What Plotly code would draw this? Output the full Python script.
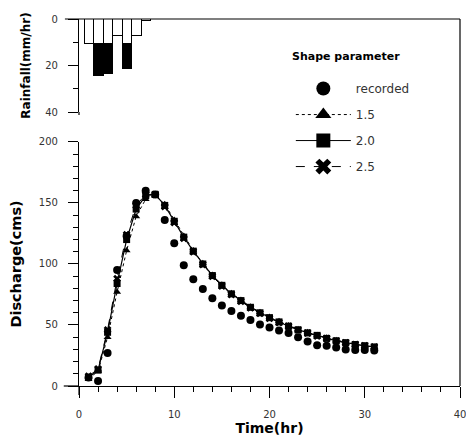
import plotly.graph_objects as go

# ---- data ----
hours = list(range(1, 32))
recorded = [7, 4, 27, 95, 123, 150, 160, 157, 136, 117,
            99, 87.5, 79.5, 72, 66, 61.5, 57.5, 54, 50.5, 48,
            45.5, 43.5, 40, 36.5, 33.5, 33, 31.5, 30, 29.5, 29.5, 29]
shape_15 = [6, 12, 40, 77, 111, 139, 153, 156, 149, 136,
            123, 111, 100.5, 91, 83, 76, 70.5, 65, 60.5, 56.5,
            53, 49.5, 46.5, 44, 41.5, 39.5, 37.5, 35.5, 34, 33, 32]
shape_20 = [7, 13, 44, 84, 120, 145, 156, 157, 148, 135,
            122, 110.5, 100, 90.5, 82.5, 75.5, 70, 64.5, 60, 56,
            52.5, 49, 46, 43.5, 41.5, 39, 37, 35.5, 34, 33, 32]
shape_25 = [8, 14, 46, 88, 124, 148, 157, 157, 147, 134,
            121, 110, 99.5, 90, 82, 75, 69.5, 64, 59.5, 55.5,
            52, 49, 46, 43.5, 41, 39, 37, 35.5, 34, 33, 32]

rain_time = [1.1, 2.1, 3.1, 4.1, 5.1, 6.1, 7.1]
rain_loss = [10.7, 10.7, 10.7, 7.2, 10.7, 7.2, 1.0]
rain_excess = [0, 13.6, 13.0, 0, 10.8, 0, 0]

x_ticks = [0, 10, 20, 30, 40]
q_ticks = [0, 50, 100, 150, 200]
r_ticks = [0, 20, 40]

legend_title = "Shape parameter"
legend_names = ["recorded", "1.5", "2.0", "2.5"]

BLACK = "black"
fig = go.Figure()

# rainfall hyetograph (upper panel)
fig.add_trace(go.Bar(x=rain_time, y=rain_loss, width=1, xaxis="x2", yaxis="y2",
                     marker=dict(color="white", line=dict(color=BLACK, width=1)),
                     showlegend=False))
fig.add_trace(go.Bar(x=rain_time, y=rain_excess, width=1, xaxis="x2", yaxis="y2",
                     marker=dict(color=BLACK, line=dict(color=BLACK, width=1)),
                     showlegend=False))

# discharge (lower panel)
fig.add_trace(go.Scatter(x=hours, y=shape_15, mode="lines+markers",
                         line=dict(color=BLACK, width=1, dash="dot"),
                         marker=dict(symbol="triangle-up", size=7, color=BLACK),
                         showlegend=False))
fig.add_trace(go.Scatter(x=hours, y=shape_25, mode="lines+markers",
                         line=dict(color=BLACK, width=1, dash="dash"),
                         marker=dict(symbol="x", size=7, color=BLACK),
                         showlegend=False))
fig.add_trace(go.Scatter(x=hours, y=shape_20, mode="lines+markers",
                         line=dict(color=BLACK, width=1.2),
                         marker=dict(symbol="square", size=7, color=BLACK),
                         showlegend=False))
fig.add_trace(go.Scatter(x=hours, y=recorded, mode="markers",
                         marker=dict(symbol="circle", size=8, color=BLACK),
                         showlegend=False))

# legend entries (larger symbols as in the reference)
leg_specs = [
    (legend_names[0], "markers", "circle", None),
    (legend_names[1], "lines+markers", "triangle-up", "dot"),
    (legend_names[2], "lines+markers", "square", "solid"),
    (legend_names[3], "lines+markers", "x", "dash"),
]
for i, (nm, mode, sym, dash) in enumerate(leg_specs):
    fig.add_trace(go.Scatter(x=[None], y=[None], mode=mode, name=nm,
                             legendgroup=f"g{i}",
                             marker=dict(symbol=sym, size=14, color=BLACK),
                             line=dict(color=BLACK, width=1, dash=dash or "solid")))

tickfont = dict(family="DejaVu Sans", size=10, color="#333")
titlefont = dict(family="DejaVu Sans", color=BLACK)

dom_q_top = 0.665
dom_r_bot = 0.7466

fig.update_layout(
    width=466, height=436,
    margin=dict(l=79, r=6, t=19, b=50, autoexpand=False),
    paper_bgcolor="white", plot_bgcolor="white",
    barmode="stack", bargap=0,
    showlegend=True,
    legend=dict(x=0.556, y=0.85, xanchor="left", yanchor="top",
                bgcolor="rgba(0,0,0,0)",
                font=dict(family="DejaVu Sans", size=12, color="#333"),
                tracegroupgap=7, itemwidth=55),
    xaxis=dict(domain=[0, 1], range=[0, 40], anchor="y", automargin=False,
               tickvals=x_ticks, ticks="outside", ticklen=11, tickwidth=1,
               tickcolor=BLACK, tickfont=tickfont, showgrid=False, zeroline=False,
               showline=True, linecolor=BLACK, linewidth=1.2, ticklabelstandoff=8,
               ticklabeloverflow="allow",
               minor=dict(dtick=2, ticks="outside", ticklen=5, tickcolor=BLACK, showgrid=False),
               title=dict(text="<b>Time(hr)</b>", font=dict(size=14, **titlefont), standoff=2)),
    yaxis=dict(domain=[0, dom_q_top], range=[0, 200], anchor="x", automargin=False,
               tickvals=q_ticks, ticks="outside", ticklen=10, tickwidth=1,
               tickcolor=BLACK, tickfont=tickfont, showgrid=False, zeroline=False,
               showline=True, linecolor=BLACK, linewidth=1.2, ticklabelstandoff=8,
               minor=dict(dtick=10, ticks="outside", ticklen=5, tickcolor=BLACK, showgrid=False),
               title=dict(text="<b>Discharge(cms)</b>", font=dict(size=14.5, **titlefont), standoff=13)),
    xaxis2=dict(domain=[0, 1], range=[0, 40], anchor="y2", matches="x",
                visible=False, showgrid=False, automargin=False),
    yaxis2=dict(domain=[dom_r_bot, 1], range=[40, 0], anchor="x2", automargin=False,
                tickvals=r_ticks, ticks="outside", ticklen=10, tickwidth=1,
                tickcolor=BLACK, tickfont=tickfont, showgrid=False, zeroline=False,
                showline=True, linecolor=BLACK, linewidth=1.2, ticklabelstandoff=8,
                minor=dict(dtick=10, ticks="outside", ticklen=5, tickcolor=BLACK, showgrid=False),
                title=dict(text="<b>Rainfall(mm/hr)</b>", font=dict(size=12, **titlefont), standoff=11)),
    annotations=[dict(text=f"<b>{legend_title}</b>", xref="paper", yref="paper",
                      x=0.554, y=0.8965, xanchor="left", yanchor="middle", showarrow=False,
                      font=dict(family="DejaVu Sans", size=11, color=BLACK))],
)

line_style = dict(color=BLACK, width=1.2)
shapes = [
    # frame top (rainfall zero line) and right border
    dict(type="line", xref="paper", yref="paper", x0=-0.037, x1=1, y0=1, y1=1, line=line_style),
    dict(type="line", xref="paper", yref="paper", x0=1, x1=1, y0=0, y1=1, line=line_style),
    # axis line extensions
    dict(type="line", xref="paper", yref="paper", x0=-0.04, x1=0, y0=0, y1=0, line=line_style),
    dict(type="line", xref="paper", yref="paper", x0=0, x1=0, y0=-0.0245, y1=0, line=line_style),
    dict(type="line", xref="paper", yref="paper", x0=0, x1=0, y0=dom_r_bot - 0.008, y1=dom_r_bot, line=line_style),
]
fig.update_layout(shapes=shapes)

# remove the default page margin so the 466x436 figure fills the window exactly
fig.write_html("out.html", config={"displayModeBar": False},
               post_script="document.body.style.margin='0';document.body.style.overflow='hidden';")
